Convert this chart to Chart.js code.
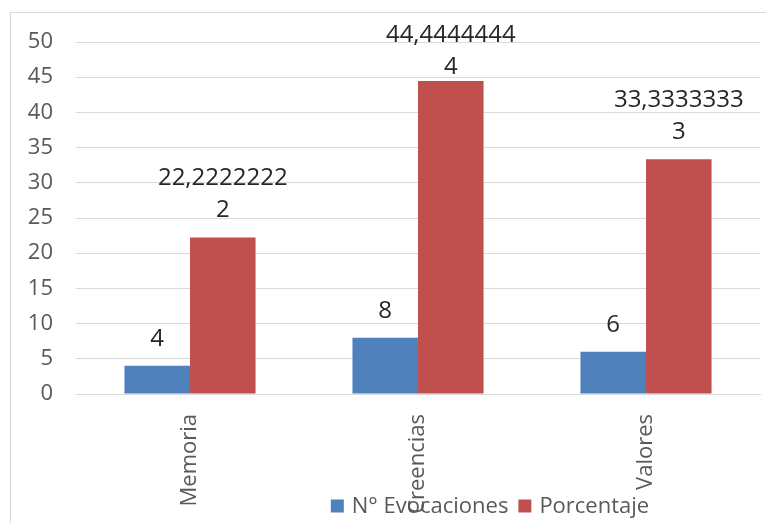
<!DOCTYPE html>
<html>
<head>
<meta charset="utf-8">
<script src="https://cdn.jsdelivr.net/npm/chart.js@4/dist/chart.umd.min.js"></script>
<style>
  html, body { margin: 0; padding: 0; background: #ffffff; }
  #wrap { width: 766px; height: 523px; }
</style>
</head>
<body>
<div id="wrap"><canvas id="c" width="766" height="523"></canvas></div>
<script>
// Categories and series
const categories = ['Memoria', 'Creencias', 'Valores'];
const evocaciones = [4, 8, 6];
const porcentaje = [22.22222222, 44.44444444, 33.33333333];
const seriesNames = ['N° Evocaciones', 'Porcentaje'];
const yTicks = [0, 5, 10, 15, 20, 25, 30, 35, 40, 45, 50];

const FONT = '"Open Sans", "Liberation Sans", sans-serif';
const BLUE = '#4F81BD';
const RED = '#C0504D';

// Value text as shown in the labels: decimal comma, wrapped after 10 characters
function labelLines(v) {
  const s = String(v).replace('.', ',');
  if (s.length <= 10) return [s];
  return [s.slice(0, 10), s.slice(10)];
}

// Outer frame of the chart
const framePlugin = {
  id: 'frame',
  beforeDraw(chart) {
    const ctx = chart.ctx;
    ctx.save();
    ctx.strokeStyle = '#D9D9D9';
    ctx.lineWidth = 1;
    ctx.strokeRect(10.5, 12.5, chart.width + 20, chart.height + 20);
    ctx.restore();
  }
};

// Value labels above each bar
const valueLabels = {
  id: 'valueLabels',
  afterDatasetsDraw(chart) {
    const ctx = chart.ctx;
    ctx.save();
    ctx.font = '24px ' + FONT;
    ctx.fillStyle = '#262626';
    ctx.textAlign = 'center';
    ctx.textBaseline = 'middle';
    const lineH = 32;
    chart.data.datasets.forEach((ds, di) => {
      const meta = chart.getDatasetMeta(di);
      meta.data.forEach((bar, i) => {
        const lines = labelLines(ds.data[i]);
        let lastY = bar.y - 27;
        let firstY = lastY - (lines.length - 1) * lineH;
        const minFirst = 35;
        if (firstY < minFirst) {
          lastY += minFirst - firstY;
          firstY = minFirst;
        }
        lines.forEach((t, k) => ctx.fillText(t, bar.x, firstY + k * lineH));
      });
    });
    ctx.restore();
  }
};

// Legend along the bottom edge
const bottomLegend = {
  id: 'bottomLegend',
  afterDraw(chart) {
    const ctx = chart.ctx;
    ctx.save();
    ctx.font = '22px ' + FONT;
    ctx.textBaseline = 'middle';
    ctx.textAlign = 'left';
    const box = 13, gapText = 8, gapItem = 10;
    const items = chart.data.datasets.map(ds => ({
      text: ds.label, color: ds.backgroundColor, w: ctx.measureText(ds.label).width
    }));
    let total = 0;
    items.forEach((it, k) => { total += box + gapText + it.w + (k ? gapItem : 0); });
    let x = 490 - total / 2;
    const cy = 506;
    items.forEach((it, k) => {
      if (k) x += gapItem;
      ctx.fillStyle = it.color;
      ctx.fillRect(x, cy - box / 2, box, box);
      x += box + gapText;
      ctx.fillStyle = '#595959';
      ctx.fillText(it.text, x, cy + 1);
      x += it.w;
    });
    ctx.restore();
  }
};

new Chart(document.getElementById('c'), {
  type: 'bar',
  data: {
    labels: categories,
    datasets: [
      { label: seriesNames[0], data: evocaciones, backgroundColor: BLUE,
        barPercentage: 1, categoryPercentage: 0.575 },
      { label: seriesNames[1], data: porcentaje, backgroundColor: RED,
        barPercentage: 1, categoryPercentage: 0.575 }
    ]
  },
  options: {
    responsive: false,
    animation: false,
    devicePixelRatio: 1,
    layout: { padding: { top: 42, right: 6, bottom: 0, left: 0 } },
    plugins: {
      legend: { display: false },
      tooltip: { enabled: false }
    },
    scales: {
      x: {
        grid: { display: false, drawTicks: false },
        border: { display: true, color: '#D9D9D9', width: 1 },
        ticks: {
          color: '#595959',
          font: { family: FONT, size: 22 },
          minRotation: 90, maxRotation: 90,
          padding: 20
        },
        afterFit(scale) { scale.height = 129; }
      },
      y: {
        min: 0, max: 50,
        afterBuildTicks(scale) { scale.ticks = yTicks.map(v => ({ value: v })); },
        grid: { color: '#D9D9D9', lineWidth: 1, drawTicks: false },
        border: { display: false },
        ticks: {
          color: '#595959',
          font: { family: FONT, size: 22 },
          padding: 23
        },
        afterFit(scale) { scale.width = 76; }
      }
    }
  },
  plugins: [framePlugin, valueLabels, bottomLegend]
});
</script>
</body>
</html>
